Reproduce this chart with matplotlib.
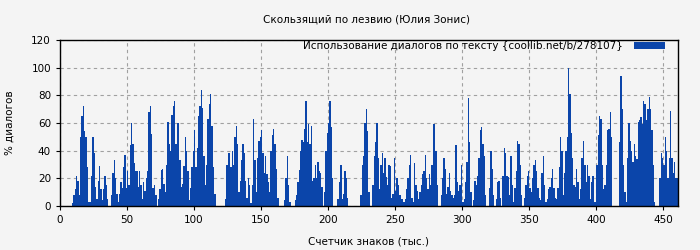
import matplotlib
matplotlib.use("Agg")
import matplotlib.pyplot as plt

title = "Скользящий по лезвию (Юлия Зонис)"
xlabel = "Счетчик знаков (тыс.)"
ylabel = "% диалогов"
legend_label = "Использование диалогов по тексту {coollib.net/b/278107}"

usage = [
    0, 0, 0, 0, 0, 0, 0, 0, 0, 2, 8, 12, 22, 18, 8, 50, 65, 72, 54, 50,
    28, 3, 3, 22, 50, 38, 14, 5, 18, 29, 12, 4, 12, 22, 15, 5, 0, 0,
    8, 24, 33, 20, 9, 3, 9, 17, 13, 28, 37, 13, 25, 15, 44, 60, 45, 31, 25, 25,
    14, 25, 15, 5, 17, 11, 20, 25, 68, 72, 52, 13, 15, 8, 0, 5, 12,
    26, 27, 16, 10, 30, 61, 45, 40, 66, 72, 76, 45, 60, 60, 33, 14, 16, 29, 50,
    40, 25, 4, 13, 28, 40, 55, 28, 42, 65, 72, 84, 71, 36, 15, 30, 63, 74,
    81, 58, 28, 9, 0, 0, 0, 0, 0, 0, 0, 5, 30, 38, 38, 28, 40, 30, 50, 58, 45,
    10, 18, 33, 45, 38, 18, 6, 20, 15, 2, 15, 63, 33, 10, 35, 47, 50,
    55, 38, 24, 36, 23, 17, 10, 40, 51, 56, 45, 27, 6, 0, 0, 0, 0, 4, 20, 36,
    15, 3, 0, 0, 0, 4, 8, 17, 26, 40, 48, 46, 56, 76, 46, 59, 45, 58,
    18, 20, 30, 20, 32, 25, 24, 14, 0, 10, 40, 53, 60, 76, 57, 20, 0, 0, 0,
    5, 17, 30, 5, 9, 25, 20, 6, 0, 0, 0, 0, 0, 0, 0, 0, 0,
    8, 30, 36, 60, 70, 54, 10, 0, 0, 15, 36, 46, 60, 35, 12, 30, 38, 24, 35,
    21, 15, 30, 29, 6, 9, 35, 11, 20, 15, 8, 5, 5, 3, 5, 12, 20, 30, 37,
    6, 3, 31, 15, 11, 5, 10, 15, 23, 25, 37, 20, 12, 23, 15, 30, 59, 59, 40,
    15, 0, 0, 8, 20, 35, 27, 9, 14, 24, 11, 8, 6, 8, 44, 17, 11, 15,
    30, 3, 5, 17, 32, 78, 46, 10, 0, 4, 18, 15, 22, 35, 55, 57, 45, 36, 8,
    0, 0, 13, 40, 27, 8, 0, 5, 17, 18, 6, 0, 22, 42, 38, 22, 21, 8,
    36, 15, 3, 13, 25, 47, 45, 30, 8, 0, 6, 15, 22, 25, 13, 10, 20, 30, 33,
    25, 13, 6, 4, 24, 36, 15, 3, 5, 12, 14, 20, 27, 13, 6, 5, 13, 28, 50,
    40, 8, 24, 40, 50, 100, 81, 53, 35, 15, 14, 27, 17, 5, 12, 35, 47, 30, 17,
    30, 22, 5, 17, 22, 3, 3, 30, 51, 65, 63, 30, 12, 15, 30, 55, 56, 68,
    50, 0, 0, 0, 0, 0, 46, 94, 70, 30, 10, 3, 35, 60, 47, 40, 32, 45, 36,
    34, 61, 62, 64, 59, 76, 74, 62, 70, 79, 70, 55, 30, 3, 0, 0, 0,
    20, 38, 35, 30, 50, 40, 20, 35, 69, 35, 24, 32, 20, 20,
]
chars_k = list(range(len(usage)))

x_ticks = [0, 50, 100, 150, 200, 250, 300, 350, 400, 450]
y_ticks = [0, 20, 40, 60, 80, 100, 120]

bg = "#f4f4f4"
bar_color = "#0b45aa"
fs = 7.5

fig = plt.figure(figsize=(7, 2.5), dpi=100, facecolor=bg)
ax = fig.add_axes([60 / 700, 1 - 206 / 250, 618 / 700, 166 / 250])
ax.set_facecolor(bg)

ax.bar(chars_k, usage, width=1.0, align="edge", color=bar_color,
       linewidth=0, label=legend_label, zorder=2)

ax.set_xlim(0, 461)
ax.set_ylim(0, 120)
ax.set_xticks(x_ticks)
ax.set_yticks(y_ticks)
ax.tick_params(labelsize=fs, length=3, width=0.8, direction="out")
ax.grid(True, linestyle=(0, (3, 3)), color="#a0a0a0", linewidth=0.8, zorder=1)
for s in ax.spines.values():
    s.set_color("black")
    s.set_linewidth(1.0)

ax.set_xlabel(xlabel, fontsize=fs, labelpad=8)
ax.set_ylabel(ylabel, fontsize=fs, labelpad=12)
fig.text(367 / 700, 1 - 19 / 250, title, fontsize=fs, ha="center", va="center")

leg = ax.legend(loc="upper right", frameon=False, fontsize=fs, markerfirst=False,
                handlelength=3.0, handleheight=0.7, borderaxespad=0,
                borderpad=0, handletextpad=1.0,
                bbox_to_anchor=((665 - 60) / 618, (206 - 41) / 166))

fig.savefig("out.png", dpi=100, facecolor=bg)
